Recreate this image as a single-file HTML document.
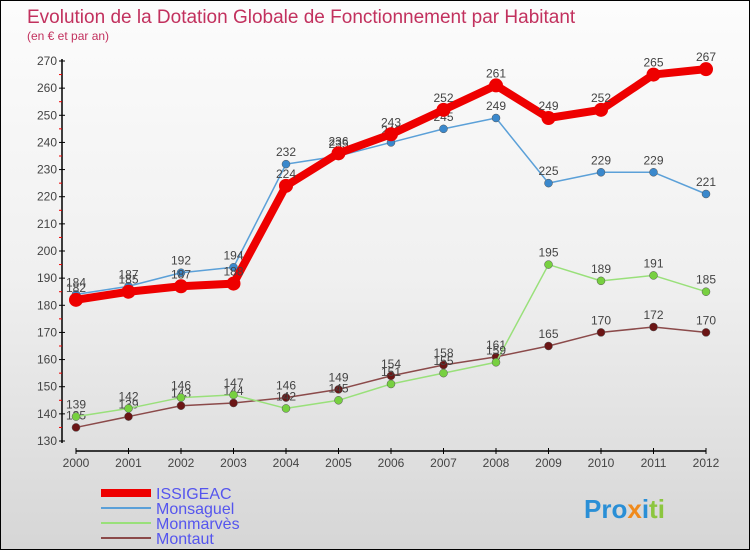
<!DOCTYPE html>
<html><head><meta charset="utf-8"><style>
body{margin:0;}
#c{width:748px;height:548px;border:1px solid #000;background:linear-gradient(#fcfcfc,#f0f0f0 50%,#d6d6d6);position:relative;overflow:hidden;font-family:"Liberation Sans",sans-serif;}
svg{position:absolute;left:0;top:0;}
</style></head><body>
<div id="c">
<svg id="s" width="750" height="550">
<text x="26" y="22" font-size="19" fill="#c2315e">Evolution de la Dotation Globale de Fonctionnement par Habitant</text>
<text x="26" y="39" font-size="12" fill="#c2315e">(en € et par an)</text>
<g id="axes"></g><g id="series"></g><g id="legend"></g>
<text x="583" y="517" font-size="26" font-weight="bold" fill="#2a8fd6">Pro<tspan fill="#f08a1c">x</tspan><tspan fill="#2a8fd6">i</tspan><tspan fill="#8cc63f">ti</tspan></text>
</svg></div>
<script>
const years=[2000,2001,2002,2003,2004,2005,2006,2007,2008,2009,2010,2011,2012];
const yTicks=[130,140,150,160,170,180,190,200,210,220,230,240,250,260,270];
const issigeac=[182,185,187,188,224,236,243,252,261,249,252,265,267];
const monsaguel=[184,187,192,194,232,235,240,245,249,225,229,229,221];
const monmarves=[139,142,146,147,142,145,151,155,159,195,189,191,185];
const montaut=[135,139,143,144,146,149,154,158,161,165,170,172,170];
const NS="http://www.w3.org/2000/svg";
function X(i){return 75+i*52.5;}
function Y(v){return 440-(v-130)*380/140;}
function mk(t,a,p){const e=document.createElementNS(NS,t);for(const k in a)e.setAttribute(k,a[k]);(p||document.getElementById('s')).appendChild(e);return e;}
const ax=document.getElementById('axes');
let e=mk('line',{x1:61,y1:58,x2:61,y2:442,stroke:'#000','stroke-width':1.5},ax);


yTicks.forEach(v=>{
 let t=mk('line',{x1:58,x2:64,y1:Y(v),y2:Y(v),stroke:'#000'},ax);
 
 
 if(v<270){let m=mk('line',{x1:58,x2:61,y1:Y(v+5),y2:Y(v+5),stroke:'#e00'},ax);
 
 }
 let l=mk('text',{x:56,y:Y(v)+4,'font-size':12,fill:'#444','text-anchor':'end'},ax);l.textContent=v;
 
 
});
e=mk('line',{x1:75,y1:450,x2:705,y2:450,stroke:'#000','stroke-width':1.5},ax);


years.forEach((y,i)=>{
 let t=mk('line',{x1:X(i),x2:X(i),y1:447,y2:453,stroke:'#000'},ax);
 
 
 let l=mk('text',{x:X(i),y:466,'font-size':12,fill:'#444','text-anchor':'middle'},ax);l.textContent=y;
 
 
});
const sg=document.getElementById('series');
function series(vals,name,col,dot,w,r){
 const g=mk('g',{},sg);
 
 
 const p=mk('polyline',{points:vals.map((v,i)=>X(i)+','+Y(v)).join(' '),fill:'none',stroke:col,'stroke-width':w,'stroke-linejoin':'round'},g);
 
 
 vals.forEach((v,i)=>{
  const c=mk('circle',{cx:X(i),cy:Y(v),r:r,fill:dot,stroke:w>3?dot:'#555','stroke-width':w>3?0:0.5},g);
  
  
  const t=mk('text',{x:X(i),y:Y(v)-8,'font-size':12,fill:'#444','text-anchor':'middle'},g);t.textContent=v;
  
  
 });
}
series(montaut,'montaut','#8b4a4a','#6b1515',1.5,4);
series(monmarves,'monmarves','#99e07a','#77d040',1.5,4);
series(monsaguel,'monsaguel','#5ba0d8','#3a88cc',1.5,4);
series(issigeac,'issigeac','#ee0000','#ee0000',8,7);
const lg=document.getElementById('legend');
[['ISSIGEAC','#ee0000',8],['Monsaguel','#5ba0d8',2],['Monmarvès','#99e07a',2],['Montaut','#8b4a4a',2]].forEach((d,i)=>{
 const y=492+i*15;
 const l=mk('line',{x1:100,x2:150,y1:y,y2:y,stroke:d[1],'stroke-width':d[2]},lg);
 
 
 const t=mk('text',{x:155,y:y+6,'font-size':16,fill:'#5555ee'},lg);t.textContent=d[0];
 
 
});
</script>
</body></html>
